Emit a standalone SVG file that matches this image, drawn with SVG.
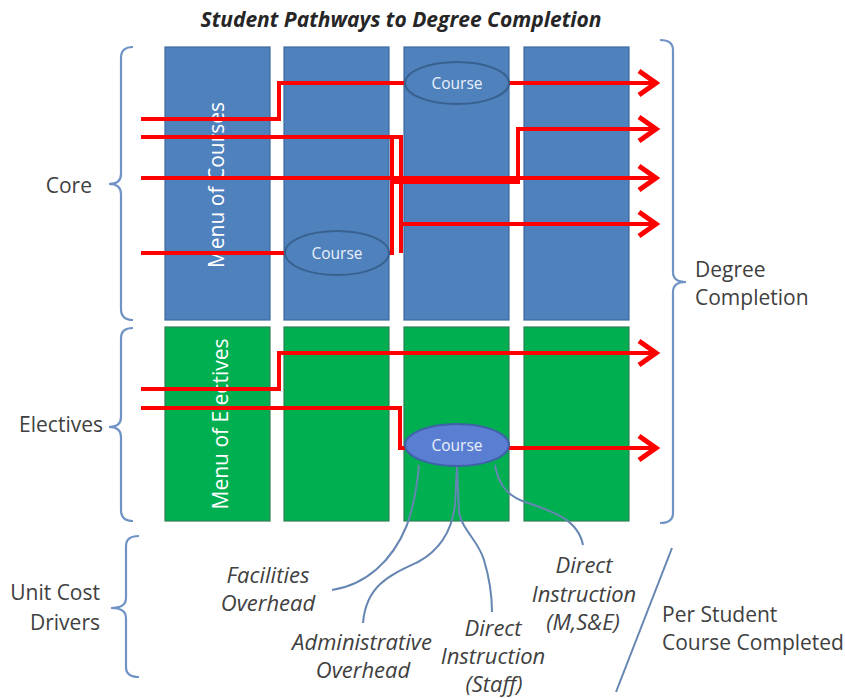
<svg xmlns="http://www.w3.org/2000/svg" width="845" height="698" viewBox="0 0 845 698">
<style>
.blue{fill:#4F81BD;stroke:#3E6A9E;stroke-width:1.2}
.green{fill:#00B050;stroke:#2F7F56;stroke-width:1.2}
.ell{fill:#4F81BD;stroke:#38618F;stroke-width:2}
.ell2{fill:#5A7FD2;stroke:#3F62A8;stroke-width:2}
.ctext{font-family:"Open Sans",Lato,sans-serif;font-size:15.5px;fill:#EAF0FA;text-anchor:middle}
.menu{font-family:"Open Sans",Lato,sans-serif;font-size:21px;fill:#FFFFFF;text-anchor:middle}
.lbl{font-family:"Open Sans",Lato,sans-serif;font-size:21px;fill:#404040}
.it{font-family:"Open Sans",Lato,sans-serif;font-size:22px;fill:#404040;font-style:italic;text-anchor:middle}
.brace{fill:none;stroke:#6F93C4;stroke-width:2.2}
.red{fill:none;stroke:#FF0000;stroke-width:4}
.drv{fill:none;stroke:#6585B2;stroke-width:2}
</style>
<defs>
<marker id="arr" markerUnits="userSpaceOnUse" viewBox="-22 -16 26 32" markerWidth="26" markerHeight="32" refX="0" refY="0" orient="auto">
<path d="M-17,-12 L0,0 L-17,12" fill="none" stroke="#FF0000" stroke-width="5"/>
</marker>
</defs>
<text x="401" y="27" font-family="'Open Sans',Lato,sans-serif" font-size="21" font-weight="bold" font-style="italic" fill="#262626" text-anchor="middle">Student Pathways to Degree Completion</text>

<g id="core-col1"><rect class="blue" x="165" y="47" width="105" height="273"/><text class="menu" transform="translate(224,185) rotate(-90)">Menu of Courses</text></g>
<g id="core-col2"><rect class="blue" x="284" y="47" width="105" height="273"/></g>
<g id="core-col3"><rect class="blue" x="404" y="47" width="105" height="273"/></g>
<g id="core-col4"><rect class="blue" x="524" y="47" width="105" height="273"/></g>
<g id="elec-col1"><rect class="green" x="165" y="327" width="105" height="194"/><text class="menu" transform="translate(228,424) rotate(-90)">Menu of Electives</text></g>
<g id="elec-col2"><rect class="green" x="284" y="327" width="105" height="194"/></g>
<g id="elec-col3"><rect class="green" x="404" y="327" width="105" height="194"/></g>
<g id="elec-col4"><rect class="green" x="524" y="327" width="105" height="194"/></g>

<g id="connectors">
<path class="red" d="M141,119 H279 V83 H405"/>
<path class="red" d="M509,83 H656" marker-end="url(#arr)"/>
<path class="red" d="M141,137 H401 V253"/>
<path class="red" d="M401,224 H656" marker-end="url(#arr)"/>
<path class="red" d="M141,178 H656" marker-end="url(#arr)"/>
<path class="red" d="M392,182 H518 V129 H656" marker-end="url(#arr)"/>
<path class="red" d="M141,253 H286"/>
<path class="red" d="M389,253 H392 V137"/>
<path class="red" d="M141,389 H279 V353 H656" marker-end="url(#arr)"/>
<path class="red" d="M141,408 H400 V448 H405"/>
<path class="red" d="M509,448 H656" marker-end="url(#arr)"/>
<path class="drv" d="M419,465 C417,490 412,510 407,525 C392,562 365,585 332,590"/>
<path class="drv" d="M457,466 L455,505 C452,530 440,550 418,562 C390,575 366,585 363,623"/>
<path class="drv" d="M457,466 L459,512 C462,530 478,540 484,560 C490,580 492,600 492,612"/>
<path class="drv" d="M495,465 C498,482 505,495 525,502 C555,512 578,520 583,545"/>
</g>

<g id="course-core-3"><ellipse class="ell" cx="457" cy="83" rx="52" ry="21"/><text class="ctext" x="457" y="89">Course</text></g>
<g id="course-core-2"><ellipse class="ell" cx="337" cy="253" rx="52" ry="22"/><text class="ctext" x="337" y="259">Course</text></g>
<g id="course-elec-3"><ellipse class="ell2" cx="457" cy="445" rx="52" ry="21"/><text class="ctext" x="457" y="451">Course</text></g>

<g id="brace-core"><path class="brace" d="M133,47 Q121,47 121,58 V174 Q121,184 109,184 Q121,184 121,194 V309 Q121,320 133,320"/><text class="lbl" x="92" y="193" text-anchor="end">Core</text></g>
<g id="brace-electives"><path class="brace" d="M133,328 Q121,328 121,338 V417 Q121,427 109,427 Q121,427 121,437 V510 Q121,521 133,521"/><text class="lbl" x="103" y="432" text-anchor="end">Electives</text></g>
<g id="brace-drivers"><path class="brace" d="M139,536 Q126,536 126,546 V598 Q126,608 111,608 Q126,608 126,618 V667 Q126,677 139,677"/><text class="lbl" x="100" y="600" text-anchor="end">Unit Cost</text><text class="lbl" x="100" y="630" text-anchor="end">Drivers</text></g>
<g id="brace-degree"><path class="brace" d="M660,40 Q673,40 673,50 V272 Q673,282 686,282 Q673,282 673,292 V513 Q673,523 660,523"/><text class="lbl" x="695" y="277">Degree</text><text class="lbl" x="695" y="305">Completion</text></g>

<g id="lbl-facilities"><text class="it" x="268" y="583">Facilities</text><text class="it" x="268" y="611">Overhead</text></g>
<g id="lbl-admin"><text class="it" x="362" y="650">Administrative</text><text class="it" x="363" y="678">Overhead</text></g>
<g id="lbl-staff"><text class="it" x="493" y="636">Direct</text><text class="it" x="493" y="664">Instruction</text><text class="it" x="494" y="692">(Staff)</text></g>
<g id="lbl-mse"><text class="it" x="584" y="573">Direct</text><text class="it" x="584" y="602">Instruction</text><text class="it" x="583" y="630">(M,S&amp;E)</text></g>
<g id="per-student"><path d="M672,548 L616,692" fill="none" stroke="#6585B2" stroke-width="2"/><text class="lbl" x="662" y="622">Per Student</text><text class="lbl" x="662" y="650">Course Completed</text></g>
</svg>
